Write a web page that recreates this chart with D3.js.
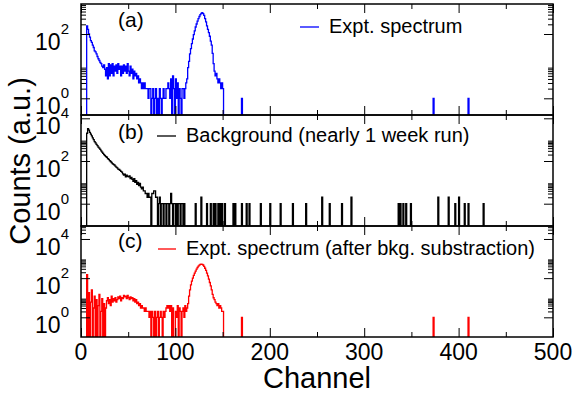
<!DOCTYPE html>
<html>
<head>
<meta charset="utf-8">
<script src="https://cdn.jsdelivr.net/npm/d3@7"></script>
<style>
  body { margin: 0; background: #fff; }
  text { font-family: "Liberation Sans", Arial, Helvetica, sans-serif; fill: #000; }
</style>
</head>
<body>
<svg id="chart" width="577" height="394"></svg>
<script>
// ---- data (counts per channel) ----
const channelTicks = [0, 100, 200, 300, 400, 500];

// (a) experimental spectrum, channels 0..151
const exptCounts = [
  0, 0, 0, 0, 0, 0,
  180, 140, 100, 80, 62, 55, 45, 38, 30, 28,
  24, 20, 17, 15, 13, 12, 10, 9, 11, 8,
  5, 9, 4, 12, 5, 11, 6, 12, 5, 10,
  7, 11, 6, 12, 8, 10, 5, 10, 6, 11,
  7, 10, 6, 12, 7, 5, 10, 6, 8, 4,
  7, 5, 6, 4, 5, 3, 4, 3, 2, 3,
  2, 3, 2, 2, 2, 1, 2, 2, 0, 1,
  2, 0, 1, 2, 0, 1, 0, 2, 1, 0,
  1, 2, 1, 1, 2, 2, 3, 2, 1, 4,
  0, 5, 2, 0, 4, 1, 3, 0, 2, 1,
  0, 2, 2, 1, 2, 3, 4, 9, 14, 24,
  35, 50, 70, 95, 125, 165, 205, 250, 300, 350,
  400, 440, 460, 430, 380, 300, 240, 180, 140, 110,
  85, 60, 45, 25, 12, 7, 5, 6, 4, 3,
  4, 3, 2, 3, 2, 0
];
const exptSpikes = [[170, 1], [373, 1], [410, 1]];

// (b) background run, channels 0..113 then isolated counts
const bkgCounts = [
  0, 0, 0, 0, 0, 0,
  2000, 3300, 2800, 2200, 1800, 1500, 1200, 1000, 800, 700,
  600, 520, 450, 400, 350, 300, 260, 230, 200, 180,
  160, 150, 130, 120, 105, 95, 85, 75, 70, 65,
  58, 52, 48, 42, 40, 36, 33, 30, 25, 22,
  24, 18, 22, 19, 18, 20, 15, 17, 14, 11,
  15, 10, 12, 8, 10, 7, 9, 6, 5, 6,
  4, 4, 3, 3, 2, 3, 2, 2, 0, 3,
  3, 4, 4, 2, 2, 0, 1, 2, 0, 1,
  1, 0, 1, 1, 0, 1, 1, 0, 1, 3,
  1, 0, 1, 1, 0, 1, 0, 1, 1, 0,
  1, 1, 0, 1
];
const bkgSpikes = [
  [121, 1], [127, 2], [133, 1], [137, 1], [140, 1], [142, 1], [145, 1], [147, 1],
  [149, 1], [152, 1], [161, 1], [163, 1], [170, 1], [175, 1], [178, 1], [190, 1],
  [200, 1], [211, 1], [224, 1], [238, 1], [255, 2], [263, 1], [276, 1], [286, 2],
  [336, 1], [338, 1], [341, 1], [344, 1], [349, 1], [378, 2], [389, 2], [396, 1],
  [400, 2], [406, 1], [410, 1], [426, 1]
];

// (c) spectrum after background subtraction, channels 0..151
const subCounts = [
  0, 0, 0, 0, 0, 0,
  150, 0, 18, 0, 6, 25, 0, 3, 12, 0,
  8, 0, 4, 15, 0, 2, 9, 0, 5, 0,
  3, 7, 10, 5, 8, 4, 12, 6, 9, 7,
  10, 6, 8, 11, 9, 12, 7, 10, 9, 13,
  11, 12, 9, 13, 10, 8, 11, 9, 10, 7,
  9, 6, 8, 5, 6, 4, 5, 3, 4, 3,
  3, 2, 3, 2, 2, 2, 1, 2, 0, 2,
  1, 0, 2, 0, 1, 2, 0, 1, 2, 1,
  0, 2, 1, 2, 3, 4, 3, 4, 2, 4,
  0, 3, 0, 0, 2, 1, 4, 0, 3, 2,
  0, 2, 3, 1, 4, 2, 3, 5, 12, 25,
  45, 70, 100, 140, 180, 230, 290, 350, 410, 460,
  500, 520, 510, 470, 400, 320, 250, 180, 130, 90,
  60, 40, 25, 15, 10, 8, 6, 5, 4, 5,
  3, 4, 3, 2, 2, 0
];
const subSpikes = [[170, 1], [373, 1], [410, 1]];

const panelLabels = ["(a)", "(b)", "(c)"];
const legendTexts = ["Expt. spectrum", "Background (nearly 1 week run)", "Expt. spectrum (after bkg. substraction)"];
const seriesColors = ["#0000ff", "#000000", "#ff0000"];

// ---- layout ----
const xLeft = 81, xRight = 553;
const panels = [
  {top: 4,   bottom: 115, logMin: -0.519, logMax: 2.933, labelY: 27,  legY: 33,  legLine: [300, 319], legX: 329, labels: [0, 2]},
  {top: 115, bottom: 226, logMin: -1.045, logMax: 4.155, labelY: 139, legY: 142, legLine: [157, 176], legX: 186, labels: [0, 2, 4]},
  {top: 226, bottom: 337, logMin: -1.005, logMax: 4.663, labelY: 248, legY: 255, legLine: [158, 176], legX: 186, labels: [0, 2, 4]}
];

const svg = d3.select("#chart");
const x = d3.scaleLinear().domain([0, 500]).range([xLeft, xRight]);

function buildSeries(dense, spikes) {
  const arr = new Array(501).fill(0);
  dense.forEach((v, i) => arr[i] = v);
  spikes.forEach(([c, v]) => arr[c] = v);
  return arr.map((v, i) => [i, v]);
}

const allSeries = [
  buildSeries(exptCounts, exptSpikes),
  buildSeries(bkgCounts, bkgSpikes),
  buildSeries(subCounts, subSpikes)
];

const majorX = channelTicks;
const minorX = d3.range(50, 500, 100);

panels.forEach((p, i) => {
  const y = d3.scaleLog()
    .domain([Math.pow(10, p.logMin), Math.pow(10, p.logMax)])
    .range([p.bottom, p.top]);
  const inDom = v => Math.log10(v) >= p.logMin && Math.log10(v) <= p.logMax;
  const majorY = [1, 100, 10000].filter(inDom);
  const minorY = [];
  [1, 100, 10000].forEach(k => d3.range(2, 10).forEach(m => { if (inDom(m * k)) minorY.push(m * k); }));

  const clipId = "clip" + i;
  svg.append("clipPath").attr("id", clipId)
    .append("rect")
    .attr("x", xLeft).attr("y", p.top)
    .attr("width", xRight - xLeft).attr("height", p.bottom - p.top);

  // data
  const line = d3.line()
    .x(d => x(d[0]))
    .y(d => y(Math.max(d[1], 1e-3)))
    .curve(d3.curveStepAfter);
  svg.append("path")
    .datum(allSeries[i])
    .attr("clip-path", `url(#${clipId})`)
    .attr("fill", "none")
    .attr("stroke", seriesColors[i])
    .attr("stroke-width", 1.3)
    .attr("d", line);

  // ticks (pointing inward)
  const addAxis = (axis, tx, ty) => {
    const g = svg.append("g").attr("transform", `translate(${tx},${ty})`).call(axis);
    g.select(".domain").remove();
    g.selectAll("line").attr("stroke", "#000").attr("stroke-width", 1);
    g.selectAll("text").remove();
  };
  addAxis(d3.axisLeft(y).tickValues(majorY).tickSize(-9), xLeft, 0);
  addAxis(d3.axisLeft(y).tickValues(minorY).tickSize(-5), xLeft, 0);
  addAxis(d3.axisRight(y).tickValues(majorY).tickSize(-9), xRight, 0);
  addAxis(d3.axisRight(y).tickValues(minorY).tickSize(-5), xRight, 0);
  addAxis(d3.axisBottom(x).tickValues(majorX).tickSize(-9), 0, p.bottom);
  addAxis(d3.axisBottom(x).tickValues(minorX).tickSize(-5), 0, p.bottom);
  addAxis(d3.axisTop(x).tickValues(majorX).tickSize(-9), 0, p.top);
  addAxis(d3.axisTop(x).tickValues(minorX).tickSize(-5), 0, p.top);

  // frame
  svg.append("rect")
    .attr("x", xLeft).attr("y", p.top)
    .attr("width", xRight - xLeft).attr("height", p.bottom - p.top)
    .attr("fill", "none").attr("stroke", "#000").attr("stroke-width", 1.5);

  // y tick labels 10^k
  p.labels.forEach(k => {
    const ty = y(Math.pow(10, k));
    const t = svg.append("text")
      .attr("x", 69).attr("y", ty + 16)
      .attr("text-anchor", "end")
      .style("font-size", "23px");
    t.append("tspan").text("10");
    t.append("tspan").attr("dy", -16).style("font-size", "15px").text(k);
  });

  // panel label and legend
  svg.append("text").attr("x", 118).attr("y", p.labelY)
    .style("font-size", "21px").text(panelLabels[i]);
  svg.append("line")
    .attr("x1", p.legLine[0]).attr("x2", p.legLine[1])
    .attr("y1", p.legY - 6).attr("y2", p.legY - 6)
    .attr("stroke", seriesColors[i]).attr("stroke-width", 1.3);
  svg.append("text").attr("x", p.legX).attr("y", p.legY)
    .style("font-size", "20px").text(legendTexts[i]);
});

// x tick labels
svg.append("g").selectAll("text")
  .data(channelTicks)
  .enter().append("text")
  .attr("x", d => x(d)).attr("y", 360)
  .attr("text-anchor", "middle")
  .style("font-size", "23px")
  .text(d => d);

// axis titles
svg.append("text")
  .attr("x", 317).attr("y", 388)
  .attr("text-anchor", "middle")
  .style("font-size", "29px")
  .text("Channel");
svg.append("text")
  .attr("transform", "translate(30,161) rotate(-90)")
  .attr("text-anchor", "middle")
  .style("font-size", "29px")
  .text("Counts (a.u.)");
</script>
</body>
</html>
